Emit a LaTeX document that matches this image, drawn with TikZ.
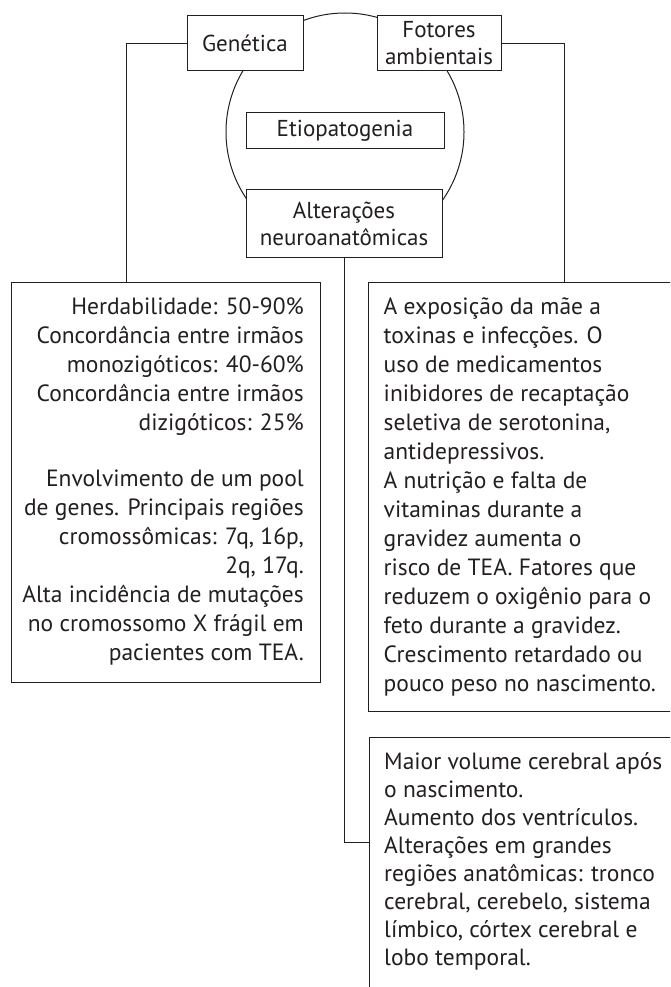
\documentclass[tikz,border=0pt]{standalone}
\usepackage{fontspec}
\setmainfont{PT Sans}
\definecolor{ink}{HTML}{231F20}
\begin{document}
\begin{tikzpicture}[x=1pt,y=-1pt,
  every node/.style={text=ink},
  frame/.style={draw=ink, line width=1pt, fill=white, inner sep=0pt},
  tbox/.style={frame, align=center, font=\fontsize{23}{27}\selectfont},
  bigbox/.style={frame},
  body/.style={inner sep=0pt, font=\fontsize{23.5}{29}\selectfont},
  link/.style={draw=ink, line width=1pt}]
\useasboundingbox (0,0) rectangle (670,987);
\clip (0,0) rectangle (670,987);
% circle behind the boxes
\draw[ink, line width=1pt] (345,132) circle[radius=119];
% top boxes
\node[tbox, minimum width=116, minimum height=55] (gen) at (245,43.5) {Genética};
\node[tbox, minimum width=124, minimum height=55] (fat) at (439,43.5) {Fotores\\ambientais};
\node[tbox, minimum width=198, minimum height=36] (etio) at (345,131) {Etiopatogenia};
\node[tbox, minimum width=196, minimum height=67] (alt) at (344,223.5) {Alterações\\neuroanatômicas};
% big boxes
\node[bigbox, minimum width=309.5, minimum height=400] (genbox) at (165.75,482) {};
\node[bigbox, minimum width=331.5, minimum height=429] (ambbox) at (534.25,496.5) {};
\node[bigbox, minimum width=331, minimum height=273] (neurobox) at (534.5,873.5) {};
% connectors
\coordinate (c1) at (126.5,43.5);
\coordinate (c2) at (564,43.5);
\coordinate (c3) at (344,842);
\draw[link] (gen.west) -- (c1) -- (c1 |- genbox.north);
\draw[link] (fat.east) -- (c2) -- (c2 |- ambbox.north);
\draw[link] (alt.south) -- (c3) -- (c3 -| neurobox.west);
% texts
\node[body, anchor=north east, align=right] (gentext) at (304,293.7) {\strut Herdabilidade: 50-90\%\\
Concordância entre irmãos\\
monozigóticos: 40-60\%\\
Concordância entre irmãos\\
dizigóticos: 25\%\\[27pt]
Envolvimento de um pool\\
de genes. Principais regiões\\
cromossômicas: 7q, 16p,\\
2q, 17q.\\
Alta incidência de mutações\\
no cromossomo X frágil em\\
pacientes com TEA.};
\node[body, anchor=north west, align=left] (ambtext) at (383.5,293.7) {\strut A exposição da mãe a\\
toxinas e infecções. O\\
uso de medicamentos\\
inibidores de recaptação\\
seletiva de serotonina,\\
antidepressivos.\\
A nutrição e falta de\\
vitaminas durante a\\
gravidez aumenta o\\
risco de TEA. Fatores que\\
reduzem o oxigênio para o\\
feto durante a gravidez.\\
Crescimento retardado ou\\
pouco peso no nascimento.};
\node[body, font=\fontsize{23.5}{28}\selectfont, anchor=north west, align=left] (neurotext) at (384,749.4) {\strut Maior volume cerebral após\\
o nascimento.\\
Aumento dos ventrículos.\\
Alterações em grandes\\
regiões anatômicas: tronco\\
cerebral, cerebelo, sistema\\
límbico, córtex cerebral e\\
lobo temporal.};
\end{tikzpicture}
\end{document}
